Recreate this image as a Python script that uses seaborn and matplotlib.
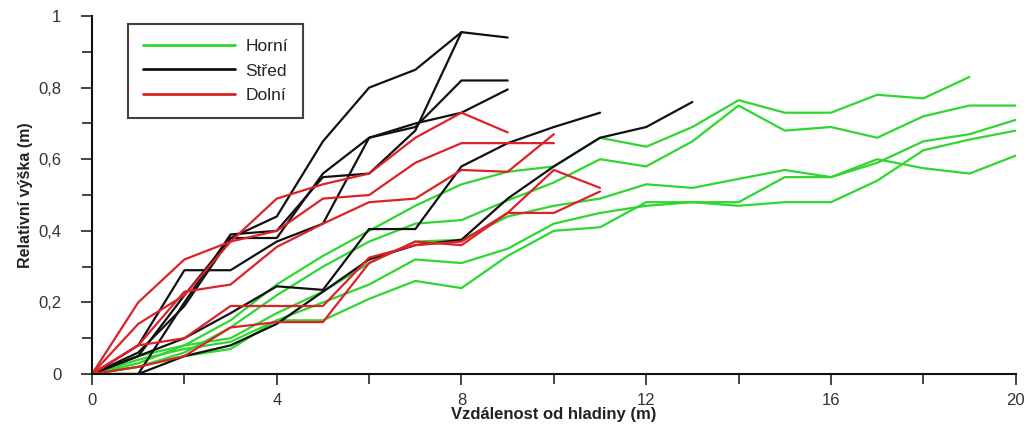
import matplotlib
matplotlib.use('Agg')
import matplotlib.pyplot as plt
from matplotlib.ticker import MultipleLocator, FuncFormatter
import numpy as np
import pandas as pd
import seaborn as sns

# Horní (green) profiles, x = 0, 1, 2, ...
horni = [
    [0, 0.03, 0.08, 0.15, 0.25, 0.33, 0.40, 0.47, 0.53, 0.565, 0.58, 0.66, 0.635, 0.69, 0.765, 0.73, 0.73, 0.78, 0.77, 0.83],
    [0, 0.02, 0.06, 0.13, 0.22, 0.30, 0.37, 0.42, 0.43, 0.485, 0.535, 0.60, 0.58, 0.65, 0.75, 0.68, 0.69, 0.66, 0.72, 0.75, 0.75],
    [0, 0.05, 0.08, 0.10, 0.17, 0.23, 0.31, 0.37, 0.375, 0.44, 0.47, 0.49, 0.53, 0.52, 0.545, 0.57, 0.55, 0.60, 0.575, 0.56, 0.61],
    [0, 0.04, 0.07, 0.09, 0.15, 0.20, 0.25, 0.32, 0.31, 0.35, 0.42, 0.45, 0.47, 0.48, 0.48, 0.55, 0.55, 0.59, 0.65, 0.67, 0.71],
    [0, 0.02, 0.05, 0.07, 0.15, 0.15, 0.21, 0.26, 0.24, 0.33, 0.40, 0.41, 0.48, 0.48, 0.47, 0.48, 0.48, 0.54, 0.625, 0.655, 0.68],
]
# Střed (black)
stred = [
    [0, 0.05, 0.22, 0.38, 0.44, 0.65, 0.80, 0.85, 0.955, 0.94],
    [0, 0.00, 0.20, 0.39, 0.40, 0.55, 0.56, 0.68, 0.955],
    [0, 0.08, 0.29, 0.29, 0.37, 0.42, 0.66, 0.69, 0.82, 0.82],
    [0, 0.06, 0.19, 0.38, 0.38, 0.56, 0.66, 0.70, 0.73, 0.795],
    [0, 0.05, 0.10, 0.17, 0.245, 0.235, 0.405, 0.405, 0.58, 0.645, 0.69, 0.73],
    [0, 0.00, 0.05, 0.08, 0.14, 0.23, 0.32, 0.36, 0.375, 0.49, 0.58, 0.66, 0.69, 0.76],
]
# Dolní (red)
dolni = [
    [0, 0.20, 0.32, 0.37, 0.49, 0.53, 0.56, 0.66, 0.73, 0.675],
    [0, 0.14, 0.22, 0.37, 0.40, 0.49, 0.50, 0.59, 0.645, 0.645, 0.645],
    [0, 0.08, 0.23, 0.25, 0.355, 0.42, 0.48, 0.49, 0.57, 0.565, 0.67],
    [0, 0.08, 0.10, 0.19, 0.19, 0.19, 0.325, 0.36, 0.37, 0.45, 0.45, 0.51],
    [0, 0.02, 0.05, 0.13, 0.145, 0.145, 0.31, 0.37, 0.36, 0.45, 0.57, 0.52],
]
groups = ['Horní', 'Střed', 'Dolní']
colors = ['#30d630', '#111111', '#dc2229']

rows = []
uid = 0
for name, series in zip(groups, [horni, stred, dolni]):
    for s in series:
        for x, y in enumerate(s):
            rows.append((name, uid, x, y))
        uid += 1
df = pd.DataFrame(rows, columns=['skupina', 'id', 'x', 'y'])

sns.set_style('ticks')
plt.rcParams['font.family'] = ['Liberation Sans', 'DejaVu Sans']

fig = plt.figure(figsize=(10.27, 4.46), dpi=100)
ax = fig.add_axes([0.0896, 0.1614, 0.8994, 0.8026])

sns.lineplot(data=df, x='x', y='y', hue='skupina', units='id', estimator=None,
             hue_order=groups, palette=colors, linewidth=1.6, ax=ax, legend=False)

ax.set_xlim(0, 20)
ax.set_ylim(0, 1)
ax.xaxis.set_major_locator(MultipleLocator(4))
ax.xaxis.set_minor_locator(MultipleLocator(2))
ax.yaxis.set_major_locator(MultipleLocator(0.2))
ax.yaxis.set_minor_locator(MultipleLocator(0.1))
fmt = FuncFormatter(lambda v, p: ('%g' % round(v, 2)).replace('.', ','))
ax.xaxis.set_major_formatter(fmt)
ax.yaxis.set_major_formatter(fmt)
ax.tick_params(which='major', length=8, width=1.2, labelsize=12, labelcolor='#333333', direction='out')
ax.tick_params(which='minor', length=7, width=1.2, direction='out')
ax.tick_params(axis='y', pad=14)
ax.tick_params(axis='x', pad=6)

for side in ['top', 'right']:
    ax.spines[side].set_visible(False)
for side in ['left', 'bottom']:
    ax.spines[side].set_linewidth(1.5)
    ax.spines[side].set_color('#111111')

ax.set_xlabel('Vzdálenost od hladiny (m)', fontsize=12, fontweight='bold', labelpad=-1, color='#222222')
ax.set_ylabel('Relativní výška (m)', fontsize=11.5, fontweight='bold', labelpad=4, color='#222222')

handles = [plt.Line2D([], [], color=c, linewidth=2) for c in colors]
leg = ax.legend(handles, groups, loc='upper left', bbox_to_anchor=(0.039, 0.978),
                fontsize=12.5, frameon=True, fancybox=False, handlelength=5.3,
                handletextpad=0.6, borderpad=0.85, labelspacing=0.55, borderaxespad=0)
leg.get_frame().set_edgecolor('#111111')
leg.get_frame().set_linewidth(1.5)

plt.savefig('out.png', dpi=100)
